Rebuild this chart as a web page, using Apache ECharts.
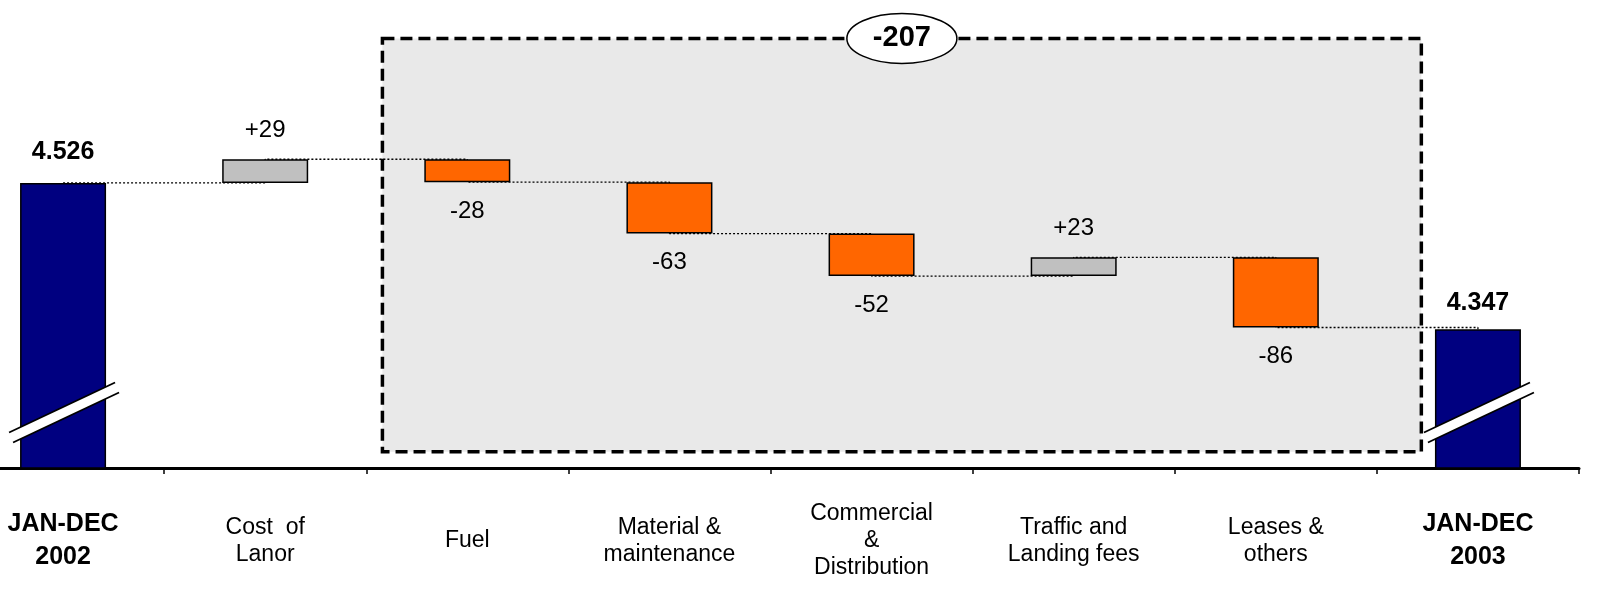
<!DOCTYPE html>
<html>
<head>
<meta charset="utf-8">
<script src="https://cdn.jsdelivr.net/npm/echarts@6/dist/echarts.min.js"></script>
<style>
  html, body { margin: 0; padding: 0; background: #ffffff; }
  #chart { width: 1599px; height: 592px; }
</style>
</head>
<body>
<div id="chart"></div>
<script>
// Cost bridge: JAN-DEC 2002 -> JAN-DEC 2003
const categories = [
  'JAN-DEC\n2002',
  'Cost  of\nLanor',
  'Fuel',
  'Material &\nmaintenance',
  'Commercial\n&\nDistribution',
  'Traffic and\nLanding fees',
  'Leases &\nothers',
  'JAN-DEC\n2003'
];
const openingTotal = 4526;
const closingTotal = 4347;
const changes = [29, -28, -63, -52, 23, -86];
const groupedChange = -207;   // sum of the boxed items (Fuel .. Leases & others)

const FONT = "'Liberation Sans', Arial, Helvetica, sans-serif";
const NAVY = '#000080';
const GREY = '#C0C0C0';
const ORANGE = '#FF6600';

// Build the invisible base and visible segment of each waterfall step
const baseData = [];
const barData = [];
const levels = [];   // running level after each bar, for the dotted connectors
let level = openingTotal;

function totalLabel(v) { return (v / 1000).toFixed(3); }
function changeLabel(d) { return (d > 0 ? '+' : '') + d; }

baseData.push(0);
barData.push({
  value: openingTotal,
  itemStyle: { color: NAVY },
  label: { position: 'top', formatter: totalLabel(openingTotal), fontWeight: 'bold', fontSize: 25, distance: 18 }
});
levels.push(level);

changes.forEach(function (d) {
  const next = level + d;
  baseData.push(Math.min(level, next));
  barData.push({
    value: Math.abs(d),
    itemStyle: { color: d > 0 ? GREY : ORANGE },
    label: { position: d > 0 ? 'top' : 'bottom', formatter: changeLabel(d), distance: 17 }
  });
  level = next;
  levels.push(level);
});

baseData.push(0);
barData.push({
  value: closingTotal,
  itemStyle: { color: NAVY },
  label: { position: 'top', formatter: totalLabel(closingTotal), fontWeight: 'bold', fontSize: 25, distance: 14 }
});
levels.push(closingTotal);

const Y_MIN = 4177;
const Y_MAX = 4750;

const option = {
  animation: false,
  backgroundColor: '#ffffff',
  textStyle: { fontFamily: FONT },
  grid: { left: -38, right: 20, top: 0, bottom: 124, containLabel: false, outerBoundsMode: 'none' },
  xAxis: {
    type: 'category',
    data: categories,
    boundaryGap: true,
    axisLine: { show: true, lineStyle: { color: '#000000', width: 3 } },
    axisTick: { show: true, length: 6, lineStyle: { color: '#000000', width: 1.5 } },
    axisLabel: {
      interval: 0,
      margin: 73,
      verticalAlign: 'middle',
      color: '#000000',
      fontFamily: FONT,
      fontSize: 23,
      lineHeight: 27,
      formatter: function (v, i) {
        if (i === 0 || i === categories.length - 1) {
          return v.split('\n').map(function (s) { return '{b|' + s + '}'; }).join('\n');
        }
        return v;
      },
      rich: {
        b: { fontFamily: FONT, fontWeight: 'bold', fontSize: 25, lineHeight: 33, color: '#000000' }
      }
    },
    splitLine: { show: false }
  },
  yAxis: {
    type: 'value',
    min: Y_MIN,
    max: Y_MAX,
    show: false,
    splitLine: { show: false }
  },
  series: [
    {
      name: 'connector',
      type: 'line',
      data: levels,
      step: 'end',
      symbol: 'none',
      z: 1,
      lineStyle: { color: '#000000', width: 1.3, type: [2, 2] },
      silent: true
    },
    {
      name: 'base',
      type: 'bar',
      stack: 'bridge',
      data: baseData,
      barWidth: 86,
      itemStyle: { color: 'transparent', borderWidth: 0 },
      silent: true,
      z: 2
    },
    {
      name: 'step',
      type: 'bar',
      stack: 'bridge',
      data: barData,
      barWidth: 86,
      clip: true,
      z: 3,
      itemStyle: { borderColor: '#000000', borderWidth: 1.5 },
      label: {
        show: true,
        color: '#000000',
        fontFamily: FONT,
        fontSize: 24
      }
    }
  ]
};

const chart = echarts.init(document.getElementById('chart'));
chart.setOption(option);

// Annotations positioned through the chart's own scales
function px(i, v) { return chart.convertToPixel({ xAxisIndex: 0, yAxisIndex: 0 }, [i, v]); }
const band = px(1, Y_MIN)[0] - px(0, Y_MIN)[0];

// Dashed grouping box around Fuel .. Leases & others
const BOX_TOP = 4703;
const BOX_BOTTOM = 4197;
const boxLeft = px(2, BOX_TOP)[0] - band * 0.42;
const boxRight = px(6, BOX_TOP)[0] + band * 0.72;
const boxTop = px(2, BOX_TOP)[1];
const boxBottom = px(2, BOX_BOTTOM)[1];
const boxMid = (boxLeft + boxRight) / 2;

// Axis-break marks on the two total bars
const BREAK_AT = 4245;
function breakMark(i) {
  const c = px(i, BREAK_AT);
  const x = c[0], y = c[1];
  const a1 = [x - 54, y + 20], b1 = [x + 52, y - 30];
  const a2 = [x - 50, y + 30], b2 = [x + 56, y - 20];
  return {
    type: 'group',
    z: 20,
    children: [
      { type: 'polygon', shape: { points: [a1, b1, b2, a2] }, style: { fill: '#ffffff', stroke: null }, z: 20 },
      { type: 'line', shape: { x1: a1[0], y1: a1[1], x2: b1[0], y2: b1[1] }, style: { stroke: '#000000', lineWidth: 1.8 }, z: 21 },
      { type: 'line', shape: { x1: a2[0], y1: a2[1], x2: b2[0], y2: b2[1] }, style: { stroke: '#000000', lineWidth: 1.8 }, z: 21 }
    ]
  };
}

chart.setOption({
  graphic: [
    {
      type: 'rect',
      z: -10,
      zlevel: 0,
      shape: { x: boxLeft, y: boxTop, width: boxRight - boxLeft, height: boxBottom - boxTop },
      style: { fill: '#E9E9E9', stroke: null }
    },
    {
      type: 'rect',
      z: 10,
      shape: { x: boxLeft, y: boxTop, width: boxRight - boxLeft, height: boxBottom - boxTop },
      style: { fill: null, stroke: '#000000', lineWidth: 3.5, lineDash: [12, 6] }
    },
    {
      type: 'ellipse',
      z: 30,
      shape: { cx: boxMid, cy: boxTop, rx: 55, ry: 25 },
      style: { fill: '#ffffff', stroke: '#000000', lineWidth: 1.5 }
    },
    {
      type: 'text',
      z: 31,
      x: boxMid,
      y: boxTop,
      style: {
        text: String(groupedChange),
        fill: '#000000',
        font: 'bold 29px ' + FONT,
        align: 'center',
        verticalAlign: 'middle'
      }
    },
    breakMark(0),
    breakMark(categories.length - 1)
  ]
});
</script>
</body>
</html>
